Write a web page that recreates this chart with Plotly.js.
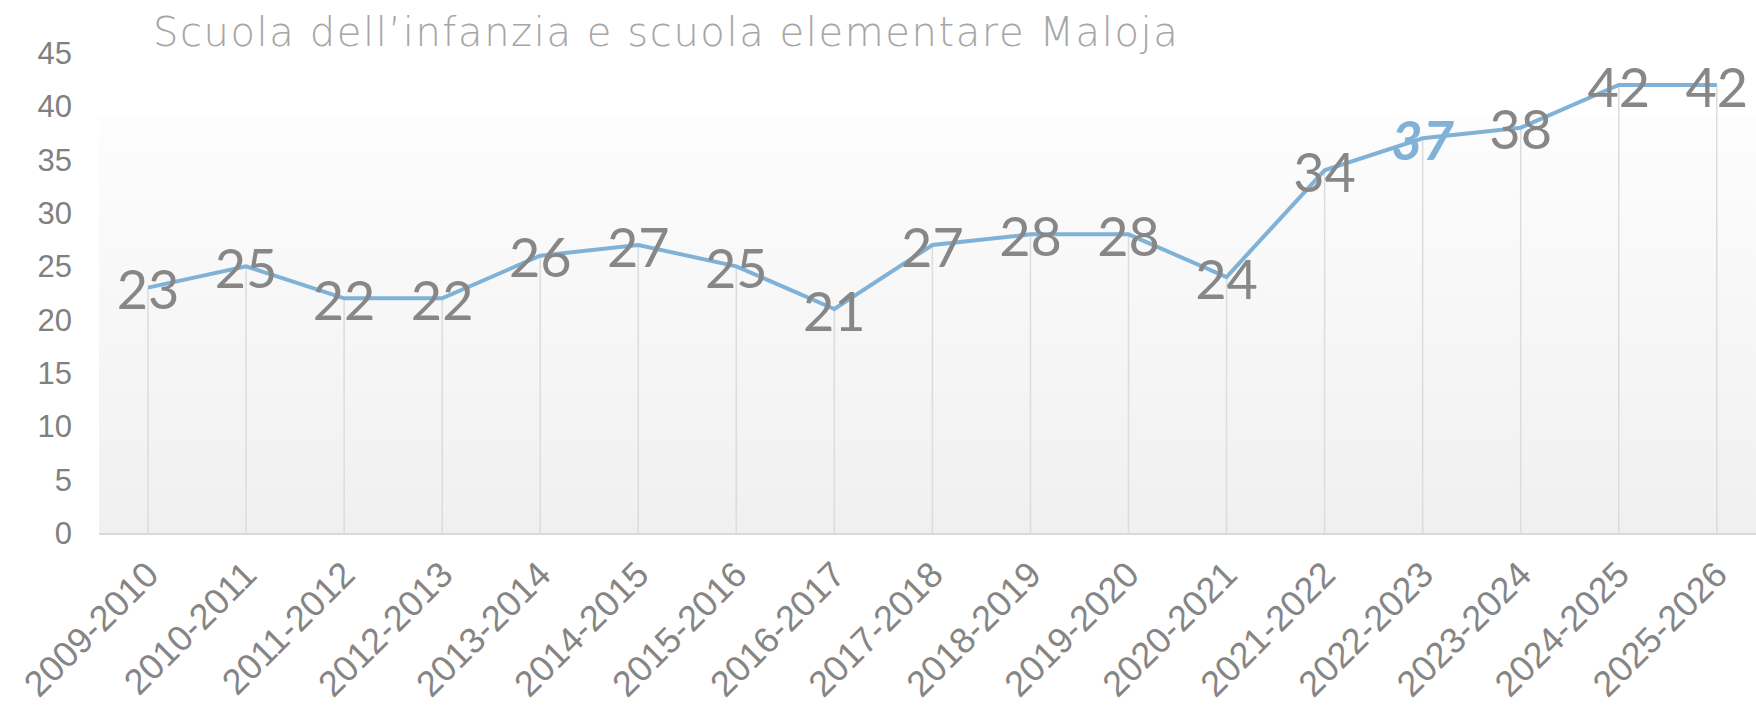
<!DOCTYPE html>
<html>
<head>
<meta charset="utf-8">
<script src="https://cdn.plot.ly/plotly-3.0.1.min.js"></script>
<style>
  html, body { margin: 0; padding: 0; background: #ffffff; }
  #wrap { position: relative; width: 1756px; height: 711px; }
  #bg { position: absolute; left: 99px; top: 116px; width: 1657px; height: 417px;
        background: linear-gradient(to bottom, #fdfdfd 0%, #f0f0f0 100%); }
  #chart { position: absolute; left: 0; top: 0; width: 1756px; height: 711px; }
  #chart .gtitle { letter-spacing: 1.6px; }
  #chart .textpoint text { transform: translateY(8px); }
</style>
</head>
<body>
<div id="wrap">
  <div id="bg"></div>
  <div id="chart"></div>
</div>
<script>
// ---- data ----
const titleText = "Scuola dell\u2019infanzia e scuola elementare Maloja";
const categories = ["2009-2010","2010-2011","2011-2012","2012-2013","2013-2014","2014-2015",
  "2015-2016","2016-2017","2017-2018","2018-2019","2019-2020","2020-2021","2021-2022",
  "2022-2023","2023-2024","2024-2025","2025-2026"];
const pupils = [23,25,22,22,26,27,25,21,27,28,28,24,34,37,38,42,42];
const highlightCategory = "2022-2023";
const yTicks = [0,5,10,15,20,25,30,35,40,45];

// ---- styles ----
const lineColor = "#7fb2d6";
const labelGrey = "#878787";
const dropColor = "#dcdcdc";

const labelTexts = pupils.map((v, i) =>
  categories[i] === highlightCategory ? "<b><i>" + v + "</i></b>" : String(v));
const labelColors = categories.map(c => c === highlightCategory ? lineColor : labelGrey);

const dropTrace = {
  x: categories, y: pupils, type: "scatter", mode: "markers",
  marker: { size: 1, opacity: 0 },
  error_y: { type: "data", symmetric: false, array: pupils.map(() => 0),
             arrayminus: pupils, width: 0, color: dropColor, thickness: 1.5 },
  hoverinfo: "skip", showlegend: false
};

const lineTrace = {
  x: categories, y: pupils, type: "scatter", mode: "lines+text",
  line: { color: lineColor, width: 4 },
  text: labelTexts, textposition: "middle center",
  textfont: { family: "Lato, 'Open Sans', sans-serif", size: 54, color: labelColors },
  hoverinfo: "skip", showlegend: false, cliponaxis: false
};

const layout = {
  width: 1756, height: 711,
  margin: { l: 99, r: 0, t: 53, b: 178, pad: 0 },
  paper_bgcolor: "rgba(0,0,0,0)", plot_bgcolor: "rgba(0,0,0,0)",
  title: {
    text: titleText, xref: "container", yref: "container",
    x: 153 / 1756, xanchor: "left", y: 1 - 32 / 711, yanchor: "middle",
    font: { family: "'DejaVu Sans', sans-serif", size: 40, color: "#a6a6a6", weight: 200 }
  },
  xaxis: {
    type: "category", categoryorder: "array", categoryarray: categories,
    range: [-0.5, 16.4], showgrid: false, zeroline: false,
    showline: true, linecolor: "#d9d9d9", linewidth: 2,
    ticks: "", tickangle: -45, ticklabelstandoff: 4,
    tickfont: { family: "'Liberation Sans', Arial, sans-serif", size: 36, color: "#858585" }
  },
  yaxis: {
    range: [0, 45], tickvals: yTicks, ticktext: yTicks.map(String),
    showgrid: false, zeroline: false, showline: false, ticks: "",
    ticklabelstandoff: 26,
    tickfont: { family: "'Liberation Sans', Arial, sans-serif", size: 31, color: "#808080" }
  },
  showlegend: false
};

Plotly.newPlot("chart", [dropTrace, lineTrace], layout, { displayModeBar: false, staticPlot: true });
</script>
</body>
</html>
